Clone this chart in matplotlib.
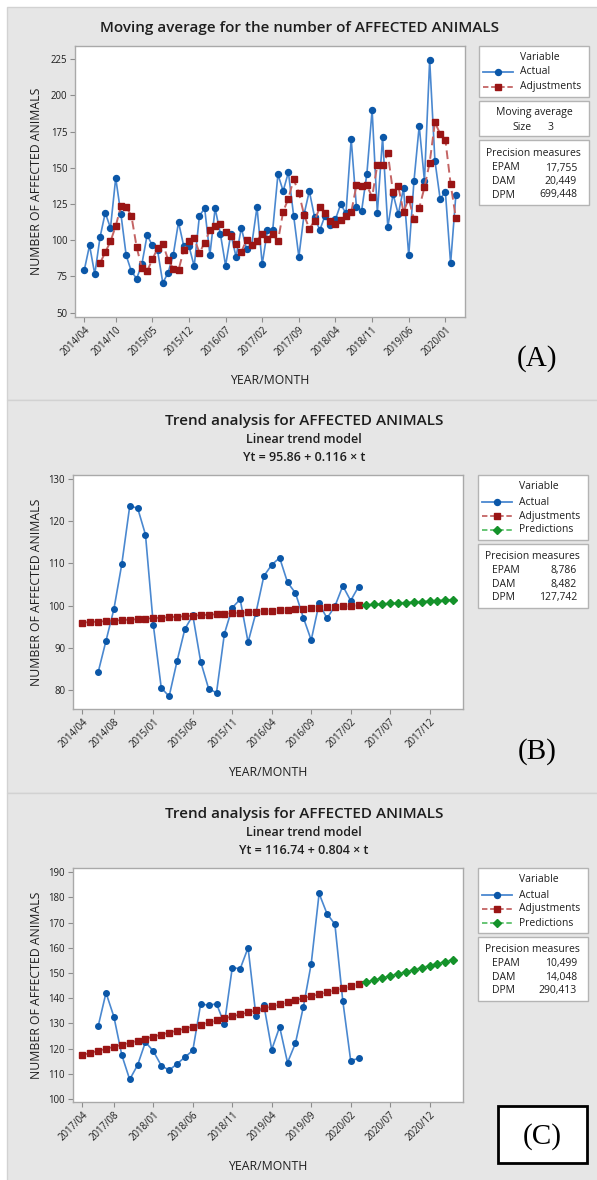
import matplotlib
matplotlib.use('Agg')
import matplotlib.pyplot as plt
from matplotlib.patches import Rectangle
from matplotlib.lines import Line2D
import numpy as np
import pandas as pd

W, H, DPI = 597, 1180, 100
plt.rcParams['font.family'] = ['Open Sans', 'DejaVu Sans']

# ---------------- data ----------------
# Panel A: monthly number of affected animals, 2014/04 - 2020/03
months_a = [f"{p.year}/{p.month:02d}" for p in pd.period_range('2014-04', '2020-03', freq='M')]
actual_a = [79.5, 96.5, 76.5, 102, 119, 108.5, 143, 118, 89.5, 78.5,
            73.5, 83.5, 103.5, 96.5, 93, 70.5, 77.5, 90, 112.5, 96,
            96, 82, 117, 122, 90, 122, 104.5, 82.5, 104.5, 88.5,
            108.5, 94, 97, 123, 83.5, 107, 107, 145.5, 134, 147,
            117, 88.5, 118, 134, 116, 107, 117, 110.5, 114.5, 125,
            118.5, 170, 123, 120.5, 146, 190, 119, 171, 109, 132,
            118, 136, 89.5, 141, 179, 141, 224.5, 155, 128.5, 133.5,
            84, 131]
# moving-average adjustments (size 3), from 2014/07
adjust_a_start = '2014/07'
adjust_a = [84.17, 91.67, 99.17, 109.83, 123.5, 123.17, 116.83, 95.33, 80.5, 78.5,
            86.83, 94.5, 97.67, 86.67, 80.33, 79.33, 93.33, 99.5, 101.5, 91.33,
            98.33, 107, 109.67, 111.33, 105.5, 103, 97.17, 91.83, 100.5, 97,
            99.83, 104.67, 101.17, 104.5, 99.17, 119.83, 128.83, 142.17, 132.67, 117.5,
            107.83, 113.5, 122.67, 119, 113.33, 111.5, 114, 116.67, 119.33, 137.83,
            137.17, 137.83, 129.83, 152.17, 151.67, 160, 133, 137.33, 119.67, 128.67,
            114.5, 122.17, 136.5, 153.67, 181.5, 173.5, 169.33, 139, 115.33]
ticks_a = ['2014/04', '2014/10', '2015/05', '2015/12', '2016/07', '2017/02',
           '2017/09', '2018/04', '2018/11', '2019/06', '2020/01']
prec_a = [('EPAM', '17,755'), ('DAM', '20,449'), ('DPM', '699,448')]

# Panel B: 2014/04 - 2018/03 (fits through 2017/03, predictions after)
months_b = [f"{p.year}/{p.month:02d}" for p in pd.period_range('2014-04', '2018-03', freq='M')]
actual_b_start = '2014/06'
actual_b = [84.17, 91.67, 99.17, 109.83, 123.5, 123.17, 116.83, 95.33, 80.5, 78.5,
            86.83, 94.5, 97.67, 86.67, 80.33, 79.33, 93.33, 99.5, 101.5, 91.33,
            98.33, 107, 109.67, 111.33, 105.5, 103, 97.17, 91.83, 100.5, 97,
            99.83, 104.67, 101.17, 104.5]
fits_b = [95.98, 96.09, 96.21, 96.32, 96.44, 96.56, 96.67, 96.79, 96.90, 97.02,
          97.14, 97.25, 97.37, 97.48, 97.60, 97.72, 97.83, 97.95, 98.06, 98.18,
          98.30, 98.41, 98.53, 98.64, 98.76, 98.88, 98.99, 99.11, 99.22, 99.34,
          99.46, 99.57, 99.69, 99.80, 99.92, 100.04]
pred_b = [100.15, 100.27, 100.38, 100.50, 100.62, 100.73, 100.85, 100.96,
          101.08, 101.20, 101.31, 101.43]
ticks_b = ['2014/04', '2014/08', '2015/01', '2015/06', '2015/11', '2016/04',
           '2016/09', '2017/02', '2017/07', '2017/12']
prec_b = [('EPAM', '8,786'), ('DAM', '8,482'), ('DPM', '127,742')]
eq_b = 'Yt = 95.86 + 0.116 × t'

# Panel C: 2017/04 - 2021/03
months_c = [f"{p.year}/{p.month:02d}" for p in pd.period_range('2017-04', '2021-03', freq='M')]
actual_c_start = '2017/06'
actual_c = [128.83, 142.17, 132.67, 117.5, 107.83, 113.5, 122.67, 119, 113.33, 111.5,
            114, 116.67, 119.33, 137.83, 137.17, 137.83, 129.83, 152.17, 151.67, 160,
            133, 137.33, 119.67, 128.67, 114.5, 122.17, 136.5, 153.67, 181.5, 173.5,
            169.33, 139, 115.33, 116.17]
fits_c = [117.54, 118.35, 119.15, 119.96, 120.76, 121.56, 122.37, 123.17, 123.98, 124.78,
          125.58, 126.39, 127.19, 128.00, 128.80, 129.60, 130.41, 131.21, 132.02, 132.82,
          133.62, 134.43, 135.23, 136.04, 136.84, 137.64, 138.45, 139.25, 140.06, 140.86,
          141.66, 142.47, 143.27, 144.08, 144.88, 145.68]
pred_c = [146.49, 147.29, 148.10, 148.90, 149.70, 150.51, 151.31, 152.12,
          152.92, 153.72, 154.53, 155.33]
ticks_c = ['2017/04', '2017/08', '2018/01', '2018/06', '2018/11', '2019/04',
           '2019/09', '2020/02', '2020/07', '2020/12']
prec_c = [('EPAM', '10,499'), ('DAM', '14,048'), ('DPM', '290,413')]
eq_c = 'Yt = 116.74 + 0.804 × t'

# ---------------- style ----------------
BG = '#e6e6e6'
FRAME = '#a9a9a9'
TXT = '#1e1e1e'
BLUE_M, BLUE_L = '#0b57a8', '#4a88d0'
RED_M, RED_L = '#9a1515', '#c46464'
GRN_M, GRN_L = '#14922a', '#5cc06a'
LEG_FS = 7.5

fig = plt.figure(figsize=(W / DPI, H / DPI), dpi=DPI, facecolor='white')


def fx(x):
    return x / W


def fy(y):
    return 1 - y / H


def ftext(x, y, s, **kw):
    kw.setdefault('color', TXT)
    fig.text(fx(x), fy(y), s, **kw)


def frect(l, t, r, b, fc='white', ec='#b4b4b4', lw=1.0, z=1):
    fig.add_artist(Rectangle((fx(l), fy(b)), (r - l) / W, (b - t) / H,
                             transform=fig.transFigure, facecolor=fc,
                             edgecolor=ec, linewidth=lw, zorder=z))


def sample(x1, x2, y, color_l, color_m, marker, ls, ms):
    fig.add_artist(Line2D([fx(x1), fx(x2)], [fy(y), fy(y)], transform=fig.transFigure,
                          color=color_l, lw=1.3, ls=ls, zorder=5))
    fig.add_artist(Line2D([fx((x1 + x2) / 2)], [fy(y)], transform=fig.transFigure,
                          marker=marker, color=color_m, ms=ms, lw=0, zorder=6))


# panel backgrounds
frect(7, 7, 598, 400, fc=BG, ec='#d2d2d2', z=0)
frect(7, 400, 598, 793, fc=BG, ec='#d2d2d2', z=0)
frect(7, 793, 598, 1181, fc=BG, ec='#d2d2d2', z=0)


def make_axes(l, t, r, b):
    ax = fig.add_axes([fx(l), fy(b), (r - l) / W, (b - t) / H])
    ax.set_facecolor('white')
    for s in ax.spines.values():
        s.set_color(FRAME)
        s.set_linewidth(1.0)
    ax.tick_params(direction='out', length=3.5, width=0.8, color='#8c8c8c',
                   labelsize=6.9, labelcolor=TXT, pad=2)
    return ax


def set_xticks(ax, months, ticks):
    ax.set_xticks([months.index(m) for m in ticks])
    ax.set_xticklabels(ticks, rotation=45, ha='right', va='top', rotation_mode='anchor')


# ---------------- Panel A ----------------
axA = make_axes(75, 45.7, 465, 316.7)
xa = np.arange(len(actual_a))
axA.plot(xa, actual_a, color=BLUE_L, lw=1.2, marker='o', ms=4.3,
         mfc=BLUE_M, mec=BLUE_M, zorder=3)
xadj = months_a.index(adjust_a_start) + np.arange(len(adjust_a))
axA.plot(xadj, adjust_a, color=RED_L, lw=1.4, ls=(0, (4.5, 2.5)), marker='s', ms=4.0,
         mfc=RED_M, mec=RED_M, zorder=4)
axA.set_xlim(-1.78, 72.75)
axA.set_ylim(47.2, 234.4)
axA.set_yticks([50, 75, 100, 125, 150, 175, 200, 225])
set_xticks(axA, months_a, ticks_a)

ftext(300, 28, 'Moving average for the number of AFFECTED ANIMALS', ha='center', va='center',
      fontsize=11, fontweight='semibold')
ftext(37, 181, 'NUMBER OF AFFECTED ANIMALS', rotation=90, ha='center', va='center', fontsize=8.8)
ftext(270, 380, 'YEAR/MONTH', ha='center', va='center', fontsize=8.8)

# legends A
frect(479, 46, 589, 97)
ftext(520, 57, 'Variable', ha='left', va='center', fontsize=LEG_FS)
sample(483, 513, 72, BLUE_L, BLUE_M, 'o', '-', 4.3)
ftext(520, 72, 'Actual', ha='left', va='center', fontsize=LEG_FS)
sample(483, 513, 86.7, RED_L, RED_M, 's', (0, (3, 1.5)), 4.0)
ftext(520, 86.7, 'Adjustments', ha='left', va='center', fontsize=LEG_FS)

frect(479, 100.7, 589, 135.7)
ftext(534, 112, 'Moving average', ha='center', va='center', fontsize=LEG_FS)
ftext(512, 127, 'Size', ha='left', va='center', fontsize=LEG_FS)
ftext(551, 127, '3', ha='center', va='center', fontsize=LEG_FS)

frect(479, 140, 589, 205)
ftext(533, 153, 'Precision measures', ha='center', va='center', fontsize=LEG_FS)
for k, (lab, val) in enumerate(prec_a):
    yy = 168 + 13.5 * k
    ftext(492, yy, lab, ha='left', va='center', fontsize=LEG_FS)
    ftext(577, yy, val, ha='right', va='center', fontsize=LEG_FS)

ftext(537, 359, '(A)', ha='center', va='center', fontsize=21, family=['Liberation Serif'],
      color='black')


# ---------------- Panels B and C ----------------
def trend_panel(off, months, act_start, actual, fits, preds, ticks, ylim, yticks, eq, prec):
    ax = make_axes(72.7, 475 + off, 463.3, 709 + off)
    xact = months.index(act_start) + np.arange(len(actual))
    ax.plot(xact, actual, color=BLUE_L, lw=1.2, marker='o', ms=4.0,
            mfc=BLUE_M, mec=BLUE_M, zorder=3)
    xf = np.arange(len(fits))
    ax.plot(xf, fits, color=RED_L, lw=1.3, ls=(0, (3, 1.5)), marker='s', ms=3.8,
            mfc=RED_M, mec=RED_M, zorder=4)
    xp = len(fits) + np.arange(len(preds))
    ax.plot(xp, preds, color=GRN_L, lw=1.3, ls=(0, (3, 1.5)), marker='D', ms=4.0,
            mfc=GRN_M, mec=GRN_M, zorder=4)
    ax.set_xlim(-1.22, 48.27)
    ax.set_ylim(*ylim)
    ax.set_yticks(yticks)
    set_xticks(ax, months, ticks)

    ftext(304, 421 + off, 'Trend analysis for AFFECTED ANIMALS', ha='center', va='center',
          fontsize=11, fontweight='semibold')
    ftext(304, 439.5 + off, 'Linear trend model', ha='center', va='center',
          fontsize=9, fontweight='semibold')
    ftext(304, 457.5 + off, eq, ha='center', va='center', fontsize=9, fontweight='semibold')
    ftext(37, 592 + off, 'NUMBER OF AFFECTED ANIMALS', rotation=90, ha='center', va='center',
          fontsize=8.8)
    ftext(268, 773 + off, 'YEAR/MONTH', ha='center', va='center', fontsize=8.8)

    frect(478, 475 + off, 588, 540 + off)
    ftext(519, 486.7 + off, 'Variable', ha='left', va='center', fontsize=LEG_FS)
    sample(482, 512, 502.3 + off, BLUE_L, BLUE_M, 'o', '-', 4.3)
    ftext(519, 502.3 + off, 'Actual', ha='left', va='center', fontsize=LEG_FS)
    sample(482, 512, 516 + off, RED_L, RED_M, 's', (0, (3, 1.5)), 4.0)
    ftext(519, 516 + off, 'Adjustments', ha='left', va='center', fontsize=LEG_FS)
    sample(482, 512, 530 + off, GRN_L, GRN_M, 'D', (0, (3, 1.5)), 4.0)
    ftext(519, 530 + off, 'Predictions', ha='left', va='center', fontsize=LEG_FS)

    frect(478, 544 + off, 588, 608 + off)
    ftext(532, 556.7 + off, 'Precision measures', ha='center', va='center', fontsize=LEG_FS)
    for k, (lab, val) in enumerate(prec):
        yy = 570.7 + off + 13.5 * k
        ftext(492, yy, lab, ha='left', va='center', fontsize=LEG_FS)
        ftext(577, yy, val, ha='right', va='center', fontsize=LEG_FS)
    return ax


trend_panel(0, months_b, actual_b_start, actual_b, fits_b, pred_b, ticks_b,
            (75.5, 130.95), [80, 90, 100, 110, 120, 130], eq_b, prec_b)
ftext(537, 752, '(B)', ha='center', va='center', fontsize=21, family=['Liberation Serif'],
      color='black')

trend_panel(393, months_c, actual_c_start, actual_c, fits_c, pred_c, ticks_c,
            (98.9, 191.6), [100, 110, 120, 130, 140, 150, 160, 170, 180, 190], eq_c, prec_c)
frect(498, 1106, 587, 1163, fc='white', ec='black', lw=2.0, z=2)
fig.text(fx(542), fy(1137), '(C)', ha='center', va='center', fontsize=21,
         family=['Liberation Serif'], color='black', zorder=3)

fig.savefig('out.png', dpi=DPI, facecolor='white')
